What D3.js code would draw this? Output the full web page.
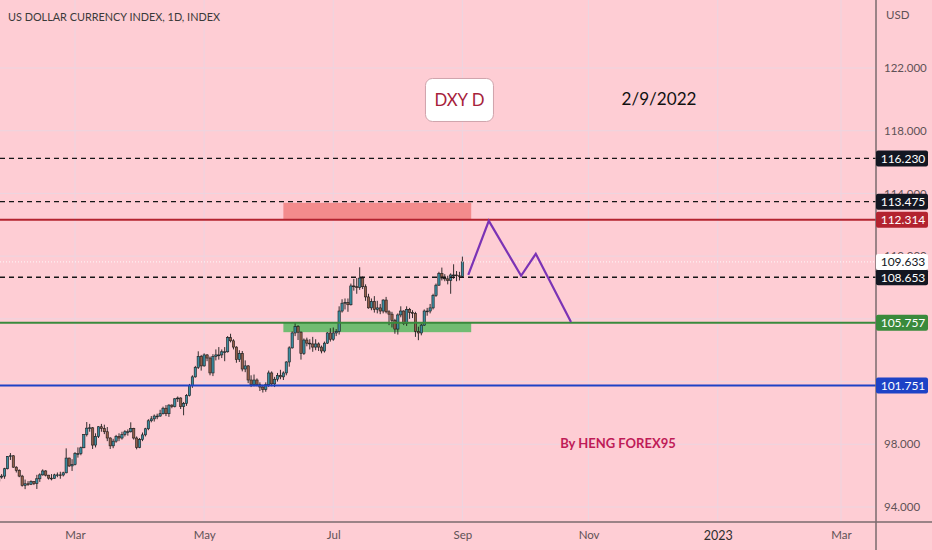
<!DOCTYPE html>
<html>
<head>
<meta charset="utf-8">
<script src="https://d3js.org/d3.v7.min.js"></script>
<style>
  body { margin: 0; background: #fecdd4; }
  svg { display: block; font-family: Lato, "Noto Sans", sans-serif; }
</style>
</head>
<body>
<svg id="chart" width="932" height="550"></svg>
<script>
// daily candles, one per weekday starting 2022-01-24 (Jan 24 .. Sep 1)
var firstDay = "2022-01-24"
var open = [
  95.65, 95.91, 95.97, 96.44, 97.23, 97.27,
  96.54, 96.34, 95.97, 95.38, 95.48, 95.45, 95.62, 95.50, 95.80, 96.05, 96.30, 96.03, 95.84, 95.81, 96.05, 96.05, 96.04, 96.18, 97.12, 96.62,
  96.71, 97.40, 97.40, 97.78, 98.62, 99.03, 99.05, 97.95, 98.50, 99.12, 99.00, 98.80, 98.40, 97.90, 98.20, 98.50, 98.40, 98.62, 98.80, 98.80, 99.00, 98.40, 97.80,
  98.30, 98.60, 98.99, 99.50, 99.62, 99.80, 99.80, 99.95, 100.30, 99.95, 100.50, 100.40, 100.90, 100.95, 100.40, 100.60, 101.10, 101.75, 102.30, 102.90, 103.60,
  103.00, 103.70, 103.50, 102.55, 103.60, 103.70, 103.70, 103.90, 103.90, 104.80, 104.60, 104.20, 103.40, 103.80, 102.80, 103.00, 102.10, 101.80, 102.10, 101.80, 101.65, 101.50,
  101.80, 102.55, 101.85, 102.15, 102.40, 102.30, 102.55, 103.25, 104.15, 105.10, 105.50, 105.15, 103.80, 104.65, 104.45, 104.40, 104.20, 104.40, 104.20, 103.95, 104.45, 105.10,
  104.70, 105.10, 105.20, 106.50, 107.00, 107.05, 106.90, 108.10, 108.05, 108.00, 108.60, 108.05, 107.40, 106.70, 107.10, 106.60, 106.70, 106.50, 107.20, 106.45, 106.30,
  105.90, 105.35, 106.25, 106.50, 105.70, 106.60, 106.40, 106.35, 105.20, 105.10, 105.60, 106.50, 106.50, 106.70, 107.50, 108.15, 108.90, 108.60, 108.55, 108.45, 108.80, 108.80, 108.75,
  108.70
]
var high = [
  96.05, 96.10, 96.50, 97.25, 97.44, 97.30,
  96.60, 96.40, 96.05, 95.75, 95.65, 95.70, 95.65, 96.05, 96.15, 96.40, 96.35, 96.05, 96.10, 96.12, 96.20, 96.25, 96.25, 97.74, 97.15, 97.05,
  97.50, 97.80, 97.85, 98.65, 99.42, 99.30, 99.10, 98.70, 99.15, 99.30, 99.25, 99.10, 98.45, 98.35, 98.60, 98.70, 98.80, 98.90, 98.95, 99.40, 99.05, 98.50, 98.40,
  98.75, 99.05, 99.60, 99.80, 99.90, 99.95, 100.20, 100.40, 100.50, 100.55, 100.55, 100.95, 101.05, 101.00, 100.70, 101.20, 101.85, 102.40, 103.00, 103.93, 103.70,
  103.80, 103.75, 103.60, 103.75, 104.05, 104.20, 104.05, 104.20, 104.90, 105.05, 104.70, 104.25, 104.00, 103.95, 103.35, 103.05, 102.40, 102.45, 102.20, 101.95, 101.80, 101.95,
  102.70, 102.65, 102.30, 102.55, 102.75, 102.65, 103.30, 104.25, 105.20, 105.79, 105.60, 105.20, 104.75, 104.80, 104.70, 104.85, 104.70, 104.50, 104.30, 104.55, 105.15, 105.40,
  105.45, 105.35, 106.80, 107.25, 107.30, 107.30, 108.25, 108.55, 108.60, 109.29, 108.70, 108.20, 107.60, 107.30, 107.45, 107.15, 106.95, 107.25, 107.40, 106.55, 106.45,
  106.00, 106.35, 106.80, 106.55, 106.80, 106.70, 106.55, 106.45, 105.50, 105.70, 106.60, 106.70, 106.95, 107.60, 108.25, 109.00, 109.27, 108.85, 108.75, 108.90, 109.48, 109.05, 109.00,
  109.97
]
var low = [
  95.50, 95.80, 95.80, 96.40, 97.00, 96.50,
  96.20, 95.90, 95.30, 95.14, 95.35, 95.40, 95.40, 95.15, 95.60, 96.00, 95.95, 95.75, 95.70, 95.80, 95.90, 95.80, 95.95, 96.15, 96.55, 96.30,
  96.65, 97.15, 97.30, 97.75, 98.50, 98.80, 97.70, 97.80, 98.40, 98.80, 98.65, 98.20, 97.70, 97.75, 98.10, 98.20, 98.30, 98.50, 98.55, 98.75, 98.30, 97.68, 97.75,
  98.20, 98.50, 98.90, 99.40, 99.45, 99.60, 99.75, 99.90, 99.80, 99.75, 100.30, 100.35, 100.70, 100.25, 99.85, 100.45, 101.05, 101.60, 102.25, 102.80, 102.70,
  102.95, 103.30, 102.40, 102.35, 103.35, 103.40, 103.50, 103.30, 103.85, 104.50, 104.05, 103.20, 103.25, 102.65, 102.60, 101.90, 101.65, 101.70, 101.70, 101.40, 101.30, 101.35,
  101.65, 101.70, 101.65, 102.00, 102.15, 102.10, 102.40, 102.95, 104.10, 104.90, 104.65, 103.40, 103.70, 104.25, 104.05, 103.90, 104.00, 103.95, 103.80, 103.85, 104.40, 104.55,
  104.60, 104.90, 105.00, 106.40, 106.60, 106.45, 106.85, 107.80, 107.60, 107.85, 107.90, 107.15, 106.65, 106.55, 106.40, 106.35, 106.30, 106.35, 106.35, 105.60, 105.45,
  105.05, 105.00, 106.10, 105.60, 105.55, 106.00, 106.05, 104.85, 104.64, 104.95, 105.55, 106.20, 106.35, 106.60, 107.40, 108.10, 108.45, 108.40, 108.20, 107.60, 108.55, 108.40, 108.45,
  108.65
]
var close = [
  95.91, 95.97, 96.44, 97.23, 97.27, 96.54,
  96.34, 95.97, 95.38, 95.48, 95.45, 95.62, 95.50, 95.80, 96.05, 96.30, 96.03, 95.84, 95.81, 96.05, 96.05, 96.04, 96.18, 97.12, 96.62, 96.71,
  97.40, 97.40, 97.78, 98.62, 99.03, 99.05, 97.95, 98.50, 99.12, 99.00, 98.80, 98.40, 97.90, 98.20, 98.50, 98.40, 98.62, 98.80, 98.80, 99.00, 98.40, 97.80, 98.30,
  98.60, 98.99, 99.50, 99.62, 99.80, 99.80, 99.95, 100.30, 99.95, 100.50, 100.40, 100.90, 100.95, 100.40, 100.60, 101.10, 101.75, 102.30, 102.90, 103.60, 103.00,
  103.70, 103.50, 102.55, 103.60, 103.70, 103.70, 103.90, 103.90, 104.80, 104.60, 104.20, 103.40, 103.80, 102.80, 103.00, 102.10, 101.80, 102.10, 101.80, 101.65, 101.50, 101.80,
  102.55, 101.85, 102.15, 102.40, 102.30, 102.55, 103.25, 104.15, 105.10, 105.50, 105.15, 103.80, 104.65, 104.45, 104.40, 104.20, 104.40, 104.20, 103.95, 104.45, 105.10, 104.70,
  105.10, 105.20, 106.50, 107.00, 107.05, 106.90, 108.10, 108.05, 108.00, 108.60, 108.05, 107.40, 106.70, 107.10, 106.60, 106.70, 106.50, 107.20, 106.45, 106.30, 105.90,
  105.35, 106.25, 106.50, 105.70, 106.60, 106.40, 106.35, 105.20, 105.10, 105.60, 106.50, 106.50, 106.70, 107.50, 108.15, 108.90, 108.60, 108.55, 108.45, 108.80, 108.80, 108.75, 108.70,
  109.633
]

var priceTicks = [94, 98, 102, 106, 110, 114, 118, 122]
var monthTicks = ["2022-03-01", "2022-05-02", "2022-07-01", "2022-09-01", "2022-11-01", "2023-01-02", "2023-03-01"]
var monthLabels = ["Mar", "May", "Jul", "Sep", "Nov", "2023", "Mar"]

// horizontal levels drawn on the chart
var levelPrices = [116.230, 113.475, 112.314, 108.653, 105.757, 101.751]
var levelColors = ["#161616", "#161616", "#b3232f", "#161616", "#3a8a3c", "#1d42c6"]
var levelDashed = [true, true, false, true, false, false]
var lastPrice = 109.633

// zones
var zoneStart = ["2022-06-08", "2022-06-08"]
var zoneEnd = ["2022-09-06", "2022-09-06"]
var zoneLow = [112.314, 105.15]
var zoneHigh = [113.40, 105.80]
var zoneColors = ["#f38b8c", "#71bc72"]

// projected path
var pathDates = ["2022-09-05", "2022-09-14", "2022-09-29", "2022-10-06", "2022-10-24"]
var pathPrices = [108.80, 112.25, 108.75, 110.15, 105.80]

var W = 932, H = 550, plotW = 876, plotH = 522

var parse = d3.timeParse("%Y-%m-%d")
var fmt = d3.timeFormat("%Y-%m-%d")
var days = d3.timeDay.range(parse(firstDay), parse("2023-03-31"))
  .filter(function(d){ return d.getDay() !== 0 && d.getDay() !== 6 })
var dayIndex = {}
days.forEach(function(d, i){ dayIndex[fmt(d)] = i })
function idx(s){ return dayIndex[s] }

var x = d3.scaleLinear().domain([idx("2022-03-01"), idx("2023-03-01")]).range([75, 841])
var y = d3.scaleLinear().domain([94, 122]).range([507, 68])

var svg = d3.select("#chart")
svg.append("rect").attr("width", W).attr("height", H).attr("fill", "#fecdd4")

svg.append("defs").append("clipPath").attr("id", "plot")
  .append("rect").attr("width", plotW).attr("height", plotH)

var plot = svg.append("g").attr("clip-path", "url(#plot)")

// grid
plot.selectAll(".hgrid").data(priceTicks).enter().append("line")
  .attr("x1", 0).attr("x2", plotW)
  .attr("y1", function(d){ return y(d) }).attr("y2", function(d){ return y(d) })
  .attr("stroke", "#ecd5e0").attr("stroke-width", 1)
plot.selectAll(".vgrid").data(monthTicks).enter().append("line")
  .attr("x1", function(d){ return x(idx(d)) }).attr("x2", function(d){ return x(idx(d)) })
  .attr("y1", 0).attr("y2", plotH)
  .attr("stroke", "#ecd5e0").attr("stroke-width", 1)

// zones
plot.selectAll(".zone").data(zoneStart).enter().append("rect")
  .attr("x", function(d){ return x(idx(d)) })
  .attr("width", function(d, i){ return x(idx(zoneEnd[i])) - x(idx(d)) })
  .attr("y", function(d, i){ return y(zoneHigh[i]) })
  .attr("height", function(d, i){ return y(zoneLow[i]) - y(zoneHigh[i]) })
  .attr("fill", function(d, i){ return zoneColors[i] })

// candles
var bw = 2.3
var candles = plot.append("g").selectAll("g").data(close).enter().append("g")
candles.append("line")
  .attr("x1", function(d, i){ return x(i) }).attr("x2", function(d, i){ return x(i) })
  .attr("y1", function(d, i){ return y(high[i]) }).attr("y2", function(d, i){ return y(low[i]) })
  .attr("stroke", "#1c1c1c").attr("stroke-width", 0.9)
candles.append("rect")
  .attr("x", function(d, i){ return x(i) - bw / 2 })
  .attr("width", bw)
  .attr("y", function(d, i){ return y(Math.max(open[i], d)) })
  .attr("height", function(d, i){ return Math.max(0.8, Math.abs(y(open[i]) - y(d))) })
  .attr("fill", function(d, i){ return d >= open[i] ? "#3a8ca0" : "#935e4a" })
  .attr("stroke", "#1c1c1c").attr("stroke-width", 0.6)

// level lines
plot.append("line")
  .attr("x1", 0).attr("x2", plotW).attr("y1", y(lastPrice)).attr("y2", y(lastPrice))
  .attr("stroke", "#ffffff").attr("stroke-width", 1).attr("stroke-dasharray", "1,2").attr("opacity", 0.9)
plot.selectAll(".level").data(levelPrices).enter().append("line")
  .attr("x1", 0).attr("x2", plotW)
  .attr("y1", function(d){ return y(d) }).attr("y2", function(d){ return y(d) })
  .attr("stroke", function(d, i){ return levelColors[i] })
  .attr("stroke-width", function(d, i){ return levelDashed[i] ? 1.3 : 2 })
  .attr("stroke-dasharray", function(d, i){ return levelDashed[i] ? "5,4" : null })

// projection
var proj = d3.line()
  .x(function(d){ return x(idx(d)) })
  .y(function(d, i){ return y(pathPrices[i]) })
plot.append("path").datum(pathDates).attr("d", proj)
  .attr("fill", "none").attr("stroke", "#7b33b5").attr("stroke-width", 2.2)

// annotations
var boxX = x(idx("2022-08-31")), boxY = y(119.96)
plot.append("rect").attr("x", boxX - 34).attr("y", boxY - 21.5).attr("width", 68).attr("height", 43)
  .attr("rx", 7).attr("fill", "#ffffff").attr("stroke", "#cfa3ab").attr("stroke-width", 1)
plot.append("text").attr("x", boxX).attr("y", boxY).attr("dy", "0.35em")
  .attr("text-anchor", "middle").attr("font-size", 18).attr("fill", "#a6213b")
  .attr("textLength", 50).attr("lengthAdjust", "spacingAndGlyphs").text("DXY D")
plot.append("text").attr("x", x(idx("2022-12-05"))).attr("y", y(120.07)).attr("dy", "0.35em")
  .attr("text-anchor", "middle").attr("font-size", 18).attr("fill", "#111111")
  .attr("textLength", 75).attr("lengthAdjust", "spacingAndGlyphs").text("2/9/2022")
plot.append("text").attr("x", x(idx("2022-11-15"))).attr("y", y(98.08)).attr("dy", "0.35em")
  .attr("text-anchor", "middle").attr("font-size", 13).attr("font-weight", "bold").attr("fill", "#c01b57").text("By HENG FOREX95")

svg.append("text").attr("x", 8).attr("y", 17).attr("dy", "0.35em")
  .attr("font-size", 12).attr("fill", "#3a3a3a")
  .attr("textLength", 212).attr("lengthAdjust", "spacingAndGlyphs").text("US DOLLAR CURRENCY INDEX, 1D, INDEX")

// axes
var yAxis = d3.axisRight(y).tickValues(priceTicks).tickFormat(d3.format(".3f")).tickSize(0).tickPadding(8)
var ya = svg.append("g").attr("transform", "translate(" + plotW + ",0)").call(yAxis)
ya.select(".domain").remove()
ya.selectAll("text").attr("font-size", 11.5).attr("fill", "#5e5256").attr("font-family", "Lato, 'Noto Sans', sans-serif")

var xAxis = d3.axisBottom(x).tickValues(monthTicks.map(idx))
  .tickFormat(function(d, i){ return monthLabels[i] }).tickSize(0).tickPadding(9)
var xa = svg.append("g").attr("transform", "translate(0," + plotH + ")").call(xAxis)
xa.select(".domain").remove()
xa.selectAll("text").attr("font-size", 11.5).attr("font-family", "Lato, 'Noto Sans', sans-serif")
  .attr("fill", function(d, i){ return monthLabels[i] === "2023" ? "#2e2e2e" : "#5e5256" })
  .attr("font-size", function(d, i){ return monthLabels[i] === "2023" ? 12.5 : 11.5 })

svg.append("line").attr("x1", 0).attr("x2", W).attr("y1", plotH).attr("y2", plotH)
  .attr("stroke", "#7a6a6e").attr("stroke-width", 1.5)
svg.append("line").attr("x1", plotW).attr("x2", plotW).attr("y1", 0).attr("y2", H)
  .attr("stroke", "#7a6a6e").attr("stroke-width", 1.5)

svg.append("text").attr("x", 886).attr("y", 15).attr("dy", "0.35em")
  .attr("font-size", 11.5).attr("fill", "#5e5256").text("USD")

// price labels on the axis
var labelPrices = levelPrices.concat([lastPrice])
var labelFill = levelColors.map(function(c){ return c === "#161616" ? "#131722" : c }).concat(["#ffffff"])
var labelText = levelPrices.map(function(){ return "#ffffff" }).concat(["#131722"])
var labels = svg.append("g").selectAll("g").data(labelPrices).enter().append("g")
  .attr("transform", function(d){ return "translate(" + plotW + "," + y(d) + ")" })
labels.append("rect").attr("x", 0).attr("y", -8).attr("width", 52).attr("height", 16).attr("rx", 2)
  .attr("fill", function(d, i){ return labelFill[i] })
labels.append("text").attr("x", 27).attr("dy", "0.36em").attr("text-anchor", "middle")
  .attr("font-size", 12).attr("fill", function(d, i){ return labelText[i] })
  .text(function(d){ return d3.format(".3f")(d) })
</script>
</body>
</html>
